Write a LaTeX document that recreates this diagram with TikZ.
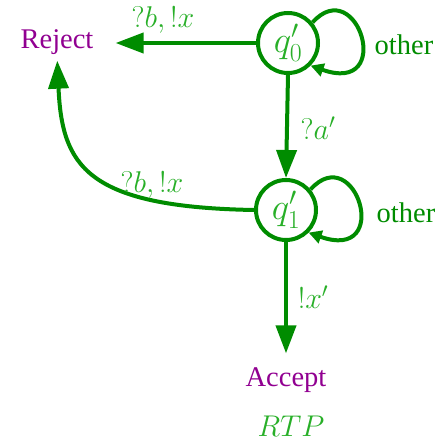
\RequirePackage{fix-cm}
\documentclass[tikz,border=0pt]{standalone}
\usepackage[no-math]{fontspec}
\setmainfont{Liberation Serif}
\usetikzlibrary{arrows.meta}
\definecolor{linegreen}{RGB}{0,140,0}
\definecolor{labgreen}{RGB}{40,175,40}
\definecolor{purp}{RGB}{145,0,145}
\begin{document}
\begin{tikzpicture}[x=1pt,y=1pt,
  state/.style={circle,draw=linegreen,line width=4pt,minimum size=60pt,inner sep=0pt,text=labgreen,font=\fontsize{37}{40}\selectfont},
  edge/.style={draw=linegreen,line width=4pt,-{Triangle[length=28pt,width=20pt]}},
  loopedge/.style={draw=linegreen,line width=4pt,-{Triangle[length=13pt,width=13pt]}},
  lab/.style={text=labgreen,font=\fontsize{30}{34}\selectfont,inner sep=0pt},
  other/.style={text=linegreen,font=\fontsize{28.5}{32}\selectfont,inner sep=0pt},
  term/.style={text=purp,font=\fontsize{28.5}{32}\selectfont,inner sep=0pt}]
\useasboundingbox (0,0) rectangle (440,-442);
\node[state] (q0) at (288,-43) {$q'_0$};
\node[state] (q1) at (286,-210) {$q'_1$};
\node[term] (rej) at (57,-42) {Reject};
\node[term] (acc) at (286,-380) {Accept};
\node[lab] (rtp) at (291,-426) {$RTP$};
\draw[edge,shorten >=22pt] (q0.west) -- (rej.east |- q0.west);
\node[lab] (l1) at (163,-20) {$?b,!x$};
\draw[edge] (q0.south) -- (q1.north);
\node[lab] (l2) at (318,-128) {$?a'$};
\draw[edge,shorten >=14pt] (q1.south) -- (acc.north);
\node[lab] (l3) at (313,-297) {$!x'$};
\draw[edge,shorten >=6pt] (q1.west) .. controls (85,-207) and (62,-165) .. (rej.south);
\node[lab] (l4) at (152,-185) {$?b,!x$};
\draw[loopedge] (q0.40) .. controls +(45,50) and +(85,-30) .. (q0.-45);
\node[other] (o1) at (404,-45) {other};
\draw[loopedge] (q1.40) .. controls +(45,50) and +(85,-30) .. (q1.-45);
\node[other] (o2) at (406,-213) {other};
\end{tikzpicture}
\end{document}
